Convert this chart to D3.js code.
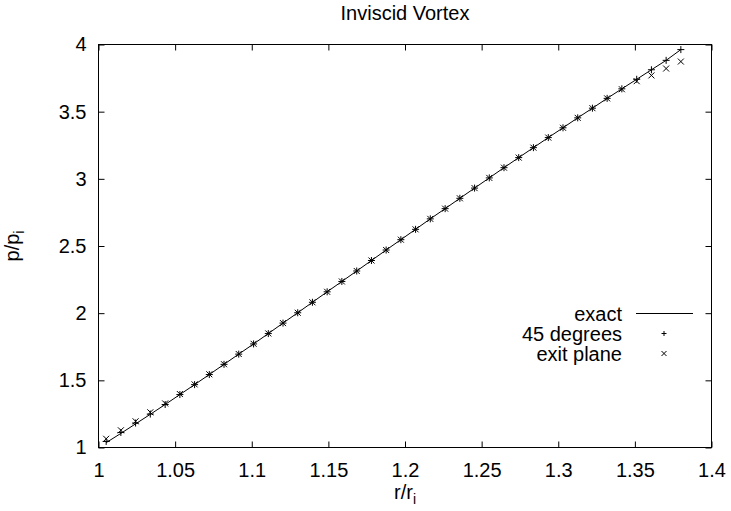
<!DOCTYPE html>
<html>
<head>
<meta charset="utf-8">
<script src="https://cdn.jsdelivr.net/npm/d3@7"></script>
<style>
  html, body { margin: 0; padding: 0; background: #fff; }
  svg { display: block; font-family: "Liberation Sans", Arial, Helvetica, sans-serif; }
</style>
</head>
<body>
<svg id="chart" width="731" height="511"></svg>
<script>
// Radial stations r/r_i
const radius = [1.0050, 1.0146, 1.0242, 1.0338, 1.0435, 1.0531, 1.0627, 1.0723, 1.0819, 1.0915,
                1.1012, 1.1108, 1.1204, 1.1300, 1.1396, 1.1492, 1.1588, 1.1685, 1.1781, 1.1877,
                1.1973, 1.2069, 1.2165, 1.2262, 1.2358, 1.2454, 1.2550, 1.2646, 1.2742, 1.2838,
                1.2935, 1.3031, 1.3127, 1.3223, 1.3319, 1.3415, 1.3512, 1.3608, 1.3704, 1.3800];
// Analytic pressure ratio p/p_i
const exact = [1.036, 1.105, 1.176, 1.247, 1.320, 1.394, 1.468, 1.543, 1.619, 1.695,
               1.771, 1.848, 1.926, 2.003, 2.081, 2.159, 2.236, 2.314, 2.392, 2.470,
               2.547, 2.624, 2.702, 2.778, 2.855, 2.931, 3.007, 3.083, 3.158, 3.232,
               3.307, 3.380, 3.454, 3.526, 3.599, 3.670, 3.741, 3.812, 3.882, 3.962];
// Computed solution sampled along the 45 degree line
const deg45 = [1.045, 1.112, 1.182, 1.249, 1.320, 1.394, 1.468, 1.543, 1.619, 1.695,
               1.771, 1.848, 1.926, 2.003, 2.081, 2.159, 2.236, 2.314, 2.392, 2.470,
               2.547, 2.624, 2.702, 2.778, 2.855, 2.931, 3.007, 3.083, 3.158, 3.232,
               3.307, 3.380, 3.454, 3.526, 3.599, 3.670, 3.741, 3.812, 3.882, 3.962];
// Computed solution sampled on the exit plane
const exitPlane = [1.065, 1.128, 1.195, 1.262, 1.328, 1.398, 1.470, 1.545, 1.620, 1.696,
                   1.772, 1.849, 1.926, 2.003, 2.081, 2.159, 2.236, 2.314, 2.392, 2.470,
                   2.547, 2.624, 2.702, 2.778, 2.855, 2.931, 3.007, 3.083, 3.158, 3.232,
                   3.307, 3.380, 3.454, 3.526, 3.599, 3.667, 3.727, 3.770, 3.821, 3.873];

const xTicks = [1, 1.05, 1.1, 1.15, 1.2, 1.25, 1.3, 1.35, 1.4];
const yTicks = [1, 1.5, 2, 2.5, 3, 3.5, 4];
const legendLabels = ["exact", "45 degrees", "exit plane"];

const svg = d3.select("#chart");
const L = 98.5, R = 711.5, T = 44.5, B = 447.5;
const x = d3.scaleLinear().domain([1, 1.4]).range([L, R]);
const y = d3.scaleLinear().domain([1, 4]).range([B, T]);
const fontSize = 20;
const tickLen = 6;

const plusPath = s => `M${-s},0H${s}M0,${-s}V${s}`;
const crossPath = s => `M${-s},${-s}L${s},${s}M${-s},${s}L${s},${-s}`;

// Title
svg.append("text").attr("x", (L + R) / 2).attr("y", 20)
  .attr("text-anchor", "middle").attr("font-size", fontSize).attr("fill", "#000")
  .text("Inviscid Vortex");

// Axes with inward ticks, mirrored on top and right
const xAxisB = d3.axisBottom(x).tickValues(xTicks).tickSize(-tickLen).tickPadding(15)
  .tickFormat(d3.format("~g"));
const xAxisT = d3.axisTop(x).tickValues(xTicks).tickSize(-tickLen).tickFormat("");
const yAxisL = d3.axisLeft(y).tickValues(yTicks).tickSize(-tickLen).tickPadding(12)
  .tickFormat(d3.format("~g"));
const yAxisR = d3.axisRight(y).tickValues(yTicks).tickSize(-tickLen).tickFormat("");

function styleAxis(g) {
  g.select(".domain").remove();
  g.selectAll(".tick line").attr("stroke", "#000").attr("stroke-width", 1);
  g.selectAll(".tick text").attr("font-size", fontSize).attr("fill", "#000")
    .attr("font-family", "Liberation Sans, Arial, sans-serif");
}
svg.append("g").attr("transform", `translate(0,${B})`).call(xAxisB).call(styleAxis)
  .selectAll(".tick text").attr("dy", "0.71em");
svg.append("g").attr("transform", `translate(0,${T})`).call(xAxisT).call(styleAxis);
svg.append("g").attr("transform", `translate(${L},0)`).call(yAxisL).call(styleAxis);
svg.append("g").attr("transform", `translate(${R},0)`).call(yAxisR).call(styleAxis);

// Frame
svg.append("rect").attr("x", L).attr("y", T).attr("width", R - L).attr("height", B - T)
  .attr("fill", "none").attr("stroke", "#000").attr("stroke-width", 1);

// Axis labels
const xl = svg.append("text").attr("x", (L + R) / 2).attr("y", 499)
  .attr("text-anchor", "middle").attr("font-size", fontSize).attr("fill", "#000");
xl.append("tspan").text("r/r");
xl.append("tspan").attr("dy", 5).attr("font-size", 14).text("i");

const yl = svg.append("text")
  .attr("transform", `translate(19,${(T + B) / 2}) rotate(-90)`)
  .attr("text-anchor", "middle").attr("font-size", fontSize).attr("fill", "#000");
yl.append("tspan").text("p/p");
yl.append("tspan").attr("dy", 5).attr("font-size", 14).text("i");

// Exact curve
const rows = radius.map((r, i) => ({ r, exact: exact[i], d45: deg45[i], ex: exitPlane[i] }));
const line = d3.line().x(d => x(d.r)).y(d => y(d.exact));
svg.append("path").datum(rows).attr("d", line)
  .attr("fill", "none").attr("stroke", "#000").attr("stroke-width", 1);

// Computed points
svg.append("g").selectAll("path").data(rows).join("path")
  .attr("transform", d => `translate(${x(d.r)},${y(d.d45)})`)
  .attr("d", plusPath(3.5)).attr("stroke", "#000").attr("stroke-width", 1).attr("fill", "none");
svg.append("g").selectAll("path").data(rows).join("path")
  .attr("transform", d => `translate(${x(d.r)},${y(d.ex)})`)
  .attr("d", crossPath(3)).attr("stroke", "#000").attr("stroke-width", 1).attr("fill", "none");

// Legend
const lg = svg.append("g");
const legendTextX = 622, legendSampleX = 664, rowY = [313.5, 333.5, 353.5];
legendLabels.forEach((lab, i) => {
  lg.append("text").attr("x", legendTextX).attr("y", rowY[i] + 7)
    .attr("text-anchor", "end").attr("font-size", fontSize).attr("fill", "#000").text(lab);
});
lg.append("line").attr("x1", 636).attr("x2", 693).attr("y1", rowY[0]).attr("y2", rowY[0])
  .attr("stroke", "#000").attr("stroke-width", 1);
lg.append("path").attr("transform", `translate(${legendSampleX},${rowY[1]})`)
  .attr("d", plusPath(2.5)).attr("stroke", "#000").attr("fill", "none");
lg.append("path").attr("transform", `translate(${legendSampleX},${rowY[2]})`)
  .attr("d", crossPath(2.5)).attr("stroke", "#000").attr("fill", "none");
</script>
</body>
</html>
